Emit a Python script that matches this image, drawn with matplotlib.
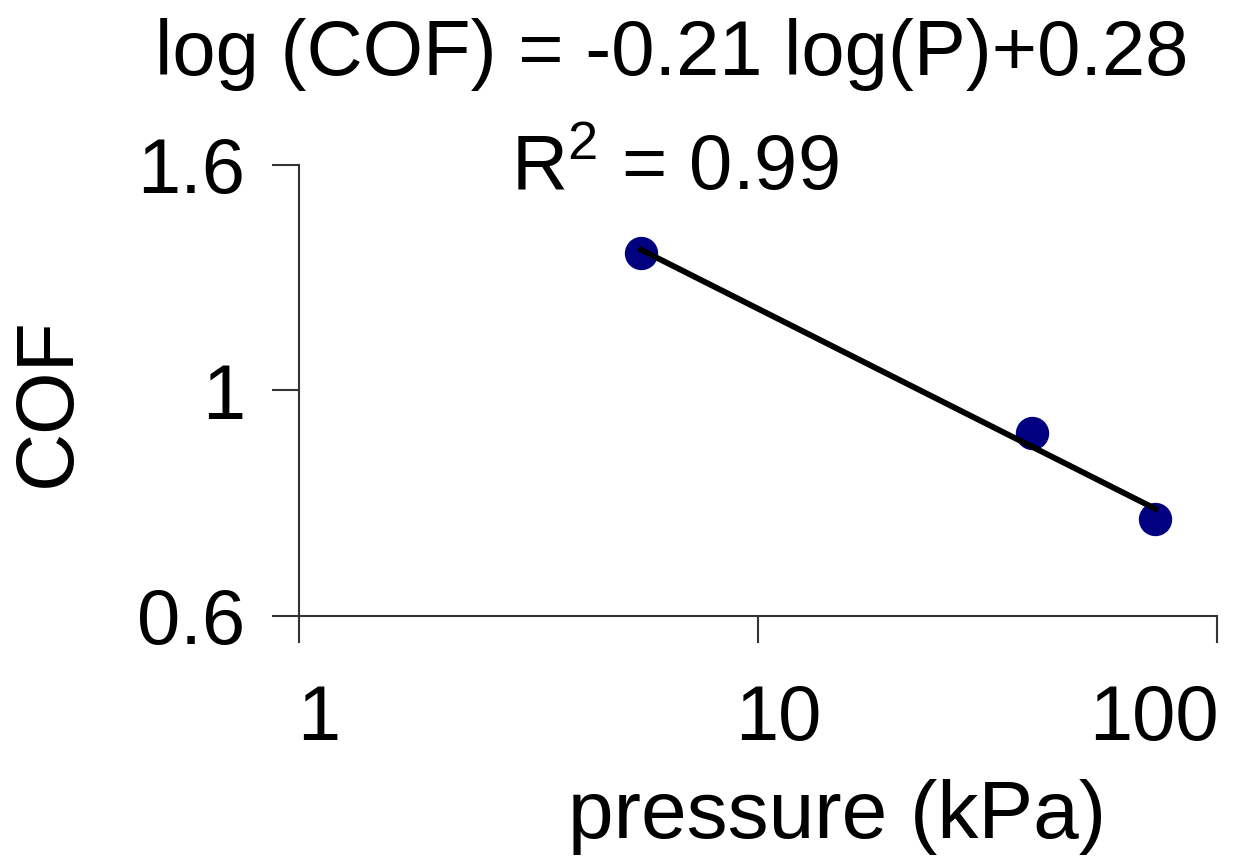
import numpy as np
import matplotlib
matplotlib.use('Agg')
import matplotlib.pyplot as plt
import matplotlib.transforms as mtrans
from matplotlib.ticker import FixedLocator, NullLocator, FixedFormatter

plt.rcParams['font.family'] = 'Liberation Sans'
plt.rcParams['mathtext.fontset'] = 'custom'
plt.rcParams['mathtext.rm'] = 'Liberation Sans'

# data
pressure = [5.56, 39.5, 73.3]           # kPa
cof      = [1.324, 0.917, 0.769]
x_ticks  = [1, 10, 100]
x_labels = ['1', '10', '100']
y_ticks  = [0.631, 1.0, 1.585]          # log axis, labels rounded to 1 decimal
y_labels = ['0.6', '1', '1.6']

fig = plt.figure(figsize=(12.47, 8.61), dpi=100)
ax  = fig.add_axes([0.2398, 0.2846, 0.7362, 0.5238])

### power-law trendline fitted in log space
slope, icpt = np.polyfit(np.log10(pressure), np.log10(cof), 1)
xs = np.array([min(pressure), max(pressure)])
ax.plot(xs, 10**(icpt + slope*np.log10(xs)), color='black', lw=4.2, zorder=3)
ax.plot(pressure, cof, 'o', color='#000080', ms=23, zorder=2)

ax.set_xscale('log')
ax.set_yscale('log')
ax.set_xlim(x_ticks[0], x_ticks[-1])
ax.set_ylim(y_ticks[0], y_ticks[-1])

ax.xaxis.set_major_locator(FixedLocator(x_ticks))
ax.xaxis.set_minor_locator(NullLocator())
ax.xaxis.set_major_formatter(FixedFormatter(x_labels))
ax.yaxis.set_major_locator(FixedLocator(y_ticks))
ax.yaxis.set_minor_locator(NullLocator())
ax.yaxis.set_major_formatter(FixedFormatter(y_labels))

for s in ['top', 'right']:
    ax.spines[s].set_visible(False)
for s in ['left', 'bottom']:
    ax.spines[s].set_color('#333333')
    ax.spines[s].set_linewidth(1.5)

ax.tick_params(axis='both', direction='out', length=19.5, width=1.5,
               color='#333333', labelsize=56)
ax.tick_params(axis='x', pad=29)
ax.tick_params(axis='y', pad=19)

## Excel-style placement of the x tick labels
fig.canvas.draw()
for lbl, ha, dx in zip(ax.get_xticklabels(), ['left', 'center', 'right'], [-0.02, 0.2, 0.02]):
    lbl.set_ha(ha)
    lbl.set_transform(lbl.get_transform() + mtrans.ScaledTranslation(dx, 0, fig.dpi_scale_trans))

ax.set_xlabel('pressure (kPa)', fontsize=59)
ax.xaxis.label.set_va('baseline')
ax.xaxis.set_label_coords(0.586, -0.492)
ax.set_ylabel('COF', fontsize=58)
ax.yaxis.label.set_va('center')
ax.yaxis.set_label_coords(-0.273, 0.4745)

fig.text(0.539, 0.913, 'log (COF) = -0.21 log(P)+0.28', fontsize=56,
         ha='center', va='baseline')
fig.text(0.541, 0.7793, r'R$^2$ = 0.99', fontsize=56, ha='center', va='baseline')

fig.savefig('out.png', dpi=100)
